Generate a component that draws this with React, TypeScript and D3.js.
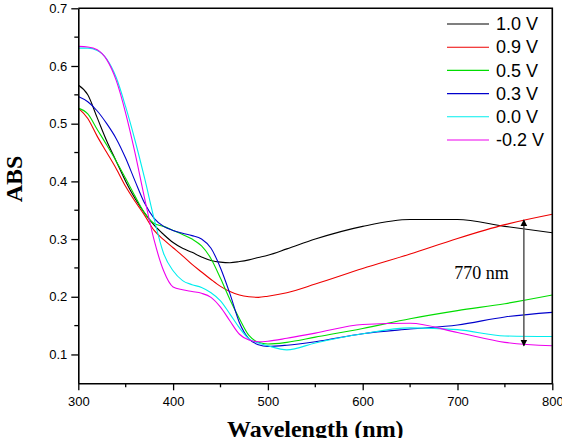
import * as d3 from "d3";
import { useRef, useEffect } from "react";

const WIDTH = 562;
const HEIGHT = 438;
const MARGIN = { top: 8.3, right: 9.7, bottom: 54.7, left: 78.3 };

// wavelength grid (nm)
const wavelengths = [300, 310, 320, 330, 340, 350, 360, 370, 380, 390, 400, 410, 420, 430, 440, 450, 460, 470, 480, 490, 500, 520, 550, 600, 650, 700, 750, 800];

const abs10 = [0.567, 0.55, 0.51, 0.47, 0.435, 0.4, 0.37, 0.345, 0.324, 0.308, 0.294, 0.284, 0.277, 0.269, 0.263, 0.26, 0.259, 0.261, 0.264, 0.268, 0.272, 0.283, 0.3, 0.322, 0.334, 0.334, 0.322, 0.311];
const abs09 = [0.527, 0.509, 0.478, 0.45, 0.422, 0.391, 0.365, 0.341, 0.315, 0.299, 0.285, 0.271, 0.256, 0.243, 0.23, 0.218, 0.209, 0.203, 0.2, 0.199, 0.201, 0.207, 0.222, 0.249, 0.274, 0.301, 0.325, 0.343];
const abs05 = [0.527, 0.517, 0.49, 0.463, 0.435, 0.405, 0.374, 0.345, 0.327, 0.322, 0.315, 0.308, 0.3, 0.288, 0.266, 0.232, 0.195, 0.162, 0.133, 0.121, 0.118, 0.121, 0.13, 0.145, 0.162, 0.176, 0.188, 0.203];
const abs03 = [0.547, 0.538, 0.522, 0.5, 0.474, 0.44, 0.4, 0.362, 0.336, 0.322, 0.315, 0.31, 0.306, 0.3, 0.284, 0.25, 0.205, 0.155, 0.127, 0.117, 0.114, 0.116, 0.122, 0.136, 0.144, 0.151, 0.165, 0.173];
const abs00 = [0.631, 0.631, 0.627, 0.612, 0.58, 0.529, 0.47, 0.405, 0.335, 0.275, 0.245, 0.228, 0.221, 0.216, 0.207, 0.193, 0.17, 0.146, 0.127, 0.12, 0.115, 0.108, 0.12, 0.136, 0.146, 0.143, 0.132, 0.131];
const absM02 = [0.634, 0.633, 0.628, 0.611, 0.575, 0.518, 0.448, 0.37, 0.298, 0.245, 0.217, 0.212, 0.209, 0.206, 0.199, 0.182, 0.158, 0.135, 0.125, 0.122, 0.123, 0.128, 0.137, 0.152, 0.154, 0.138, 0.121, 0.115];

const seriesNames = ["1.0 V", "0.9 V", "0.5 V", "0.3 V", "0.0 V", "-0.2 V"];
const seriesValues = [abs10, abs09, abs05, abs03, abs00, absM02];
const seriesColors = ["#000000", "#ee0000", "#00dd00", "#0000cc", "#00eeee", "#ee00ee"];

const xTicks = [300, 400, 500, 600, 700, 800];
const yTicks = [0.1, 0.2, 0.3, 0.4, 0.5, 0.6, 0.7];

// annotation arrow at 770 nm
const arrowX = 770;
const arrowFrom = 0.115;
const arrowTo = 0.333;

export default function App() {
  const svgRef = useRef(null);

  useEffect(() => {
    const svg = d3.select(svgRef.current);
    svg.selectAll("*").remove();

    const innerWidth = WIDTH - MARGIN.left - MARGIN.right;
    const innerHeight = HEIGHT - MARGIN.top - MARGIN.bottom;

    const x = d3.scaleLinear().domain([300, 800]).range([0, innerWidth]);
    const y = d3.scaleLinear().domain([0.05, 0.7]).range([innerHeight, 0]);

    const g = svg.append("g").attr("transform", `translate(${MARGIN.left},${MARGIN.top})`);

    // curves
    const line = d3
      .line<number>()
      .x((_, i) => x(wavelengths[i]))
      .y((d) => y(d))
      .curve(d3.curveMonotoneX);

    seriesValues.forEach((vals, i) => {
      g.append("path")
        .attr("d", line(vals))
        .attr("fill", "none")
        .attr("stroke", seriesColors[i])
        .attr("stroke-width", 1.1);
    });

    // minor ticks
    const xMinor = d3.range(350, 800, 100);
    g.selectAll(".xminor")
      .data(xMinor)
      .enter()
      .append("line")
      .attr("x1", (d) => x(d))
      .attr("x2", (d) => x(d))
      .attr("y1", innerHeight)
      .attr("y2", innerHeight + 4)
      .attr("stroke", "#000")
      .attr("stroke-width", 1.3);
    const yMinor = d3.range(0.15, 0.7, 0.1);
    g.selectAll(".yminor")
      .data(yMinor)
      .enter()
      .append("line")
      .attr("x1", -4)
      .attr("x2", 0)
      .attr("y1", (d) => y(d))
      .attr("y2", (d) => y(d))
      .attr("stroke", "#000")
      .attr("stroke-width", 1.3);

    // axes
    const xAxis = g
      .append("g")
      .attr("transform", `translate(0,${innerHeight})`)
      .call(d3.axisBottom(x).tickValues(xTicks).tickFormat(d3.format("d")).tickSizeInner(7).tickSizeOuter(0).tickPadding(6));
    const yAxis = g
      .append("g")
      .call(d3.axisLeft(y).tickValues(yTicks).tickFormat(d3.format(".1f")).tickSizeInner(7).tickSizeOuter(0).tickPadding(4));
    [xAxis, yAxis].forEach((a) => {
      a.selectAll("text").style("font-family", "Liberation Sans, Arial, sans-serif").style("font-size", "13px").attr("fill", "#000");
      a.selectAll("line").attr("stroke-width", 1.3);
      a.select(".domain").attr("stroke-width", 1.6);
    });

    // top and right border
    g.append("path")
      .attr("d", `M0,0H${innerWidth}V${innerHeight}`)
      .attr("fill", "none")
      .attr("stroke", "#000")
      .attr("stroke-width", 1.6);

    // arrow
    const defs = svg.append("defs");
    defs
      .append("marker")
      .attr("id", "ah")
      .attr("viewBox", "0 0 10 10")
      .attr("refX", 9)
      .attr("refY", 5)
      .attr("markerWidth", 7)
      .attr("markerHeight", 9)
      .attr("markerUnits", "userSpaceOnUse")
      .attr("orient", "auto-start-reverse")
      .append("path")
      .attr("d", "M0,0L10,5L0,10Z")
      .attr("fill", "#000");
    g.append("line")
      .attr("x1", x(arrowX))
      .attr("x2", x(arrowX))
      .attr("y1", y(arrowTo))
      .attr("y2", y(arrowFrom))
      .attr("stroke", "#555")
      .attr("stroke-width", 1.5)
      .attr("marker-start", "url(#ah)")
      .attr("marker-end", "url(#ah)");
    g.append("text")
      .attr("x", x(arrowX) - 15)
      .attr("y", y(0.23))
      .attr("text-anchor", "end")
      .style("font-family", "Liberation Serif, Times New Roman, serif")
      .style("font-size", "18px")
      .text("770 nm");

    // legend
    const legend = g.append("g");
    seriesNames.forEach((name, i) => {
      const ly = 15.7 + i * 23.2;
      legend
        .append("line")
        .attr("x1", 447 - MARGIN.left)
        .attr("x2", 489 - MARGIN.left)
        .attr("y1", ly)
        .attr("y2", ly)
        .attr("stroke", seriesColors[i])
        .attr("stroke-width", 1.1);
      legend
        .append("text")
        .attr("x", 496 - MARGIN.left)
        .attr("y", ly)
        .attr("dy", "0.35em")
        .style("font-family", "Liberation Sans, Arial, sans-serif")
        .style("font-size", "18px")
        .text(name);
    });

    // axis titles
    svg
      .append("text")
      .attr("x", MARGIN.left + innerWidth / 2)
      .attr("y", 437)
      .attr("text-anchor", "middle")
      .style("font-family", "Liberation Serif, Times New Roman, serif")
      .style("font-weight", "bold")
      .style("font-size", "24px")
      .text("Wavelength (nm)");
    svg
      .append("text")
      .attr("transform", "translate(22,179) rotate(-90)")
      .attr("text-anchor", "middle")
      .style("font-family", "Liberation Serif, Times New Roman, serif")
      .style("font-weight", "bold")
      .style("font-size", "24px")
      .text("ABS");
  }, []);

  return <svg ref={svgRef} width={WIDTH} height={HEIGHT} style={{ position: "absolute", left: 0, top: 0, background: "#fff" }} />;
}
